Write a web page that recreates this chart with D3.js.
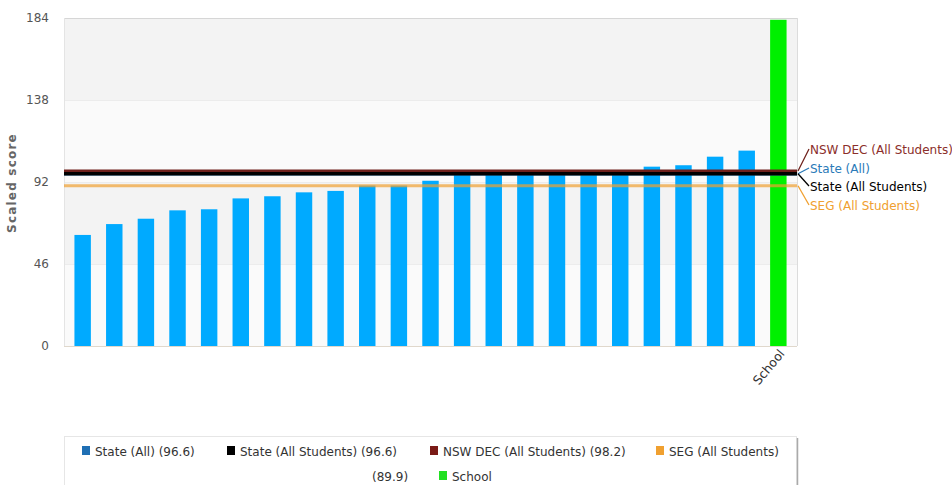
<!DOCTYPE html>
<html><head><meta charset="utf-8">
<script src="https://cdn.jsdelivr.net/npm/d3@7/dist/d3.min.js"></script>
<style>body{margin:0;background:#fff}svg{display:block}text{font-family:"DejaVu Sans",Verdana,sans-serif}</style>
</head><body><svg id="c" width="952" height="485"></svg>
<script>
const categories = ["c1","c2","c3","c4","c5","c6","c7","c8","c9","c10","c11","c12","c13","c14","c15","c16","c17","c18","c19","c20","c21","c22","School"];
const xLabels = ["","","","","","","","","","","","","","","","","","","","","","","School"];
const barValues = [62.3,68.4,71.4,76.1,76.7,82.8,84.0,86.2,87.0,90.0,90.0,92.7,96.0,96.3,96.5,96.5,96.8,97.5,100.6,101.4,106.2,109.6,183];
const yTicks = [0,46,92,138,184];
const refNames = ["NSW DEC (All Students)","State (All)","State (All Students)","SEG (All Students)"];
const refValues = [98.2,96.6,96.6,89.9];
const refColors = ["#6e1f1a","#2a7ab8","#000000","#f0a030"];
const legendLabels = ["State (All) (96.6)","State (All Students) (96.6)","NSW DEC (All Students) (98.2)","SEG (All Students)","(89.9)","School"];
const legendColors = ["#1f6fb4","#000000","#7a1a16","#f0a030",null,"#22e022"];

const svg = d3.select("#c");
const L=64,R=797,T=18,B=346;
const x = d3.scaleBand().domain(categories).range([L,R]).paddingInner(0.48).paddingOuter(0.33);
const y = d3.scaleLinear().domain([0,184]).range([B,T]);

// bands
for(let i=0;i<yTicks.length-1;i++){
  svg.append("rect").attr("x",L).attr("width",R-L)
    .attr("y",y(yTicks[i+1])).attr("height",y(yTicks[i])-y(yTicks[i+1]))
    .attr("fill", i%2===0 ? "#fafafa" : "#f3f3f3");
}
svg.selectAll(".g").data(yTicks.slice(1,-1)).enter().append("line")
  .attr("x1",L).attr("x2",R).attr("y1",d=>y(d)+0.5).attr("y2",d=>y(d)+0.5)
  .attr("stroke","#ececec");
svg.append("line").attr("x1",L).attr("x2",R).attr("y1",T+0.5).attr("y2",T+0.5).attr("stroke","#d6d6d6");
svg.append("line").attr("x1",R+0.5).attr("x2",R+0.5).attr("y1",T).attr("y2",B).attr("stroke","#dcdcdc");
svg.append("line").attr("x1",L+0.5).attr("x2",L+0.5).attr("y1",T).attr("y2",B).attr("stroke","#e4e4e4");
svg.append("line").attr("x1",L).attr("x2",R).attr("y1",B+0.5).attr("y2",B+0.5).attr("stroke","#e0d8cc");

// bars
svg.selectAll(".bar").data(barValues).enter().append("rect")
  .attr("x",(d,i)=>x(categories[i])).attr("width",x.bandwidth())
  .attr("y",d=>y(d)).attr("height",d=>B-y(d))
  .attr("fill",(d,i)=>categories[i]==="School" ? "#00f000" : "#00aaff");

// reference lines
const order=[3,1,0,2];
order.forEach(i=>{
  svg.append("line").attr("x1",L).attr("x2",R)
    .attr("y1",y(refValues[i])).attr("y2",y(refValues[i]))
    .attr("stroke",refColors[i])
    .attr("stroke-width", i===3 ? 3 : (i===0?3:3.5))
    .attr("stroke-opacity", i===3 ? 0.7 : 1);
});

// right labels with connectors
const labelY=[154,173,191,210];
refNames.forEach((n,i)=>{
  const y0=y(refValues[i]);
  svg.append("path").attr("d",`M${R+1},${y0} L${R+12},${labelY[i]-5}`)
    .attr("stroke",refColors[i]).attr("fill","none").attr("stroke-width",1.3);
  svg.append("text").attr("x",R+13).attr("y",labelY[i]).attr("font-size",12)
    .attr("fill", i===0?"#8b2e2a":refColors[i]).text(n);
});

// y axis labels
svg.selectAll(".yt").data(yTicks).enter().append("text")
  .attr("x",49).attr("y",d=>y(d)+4).attr("text-anchor","end")
  .attr("font-size",12).attr("fill","#555").text(d=>d);
svg.append("text").attr("transform",`translate(16,183) rotate(-90)`)
  .attr("text-anchor","middle").attr("font-size",12).attr("font-weight","bold")
  .attr("letter-spacing","1.2px")
  .attr("fill","#666").text("Scaled score");

// x labels
svg.selectAll(".xl").data(categories).enter().append("text")
  .attr("transform",(d,i)=>`translate(${x(d)+x.bandwidth()/2+7},${B+8}) rotate(-50)`)
  .attr("text-anchor","end").attr("font-size",12.5).attr("fill","#333")
  .text((d,i)=>xLabels[i]);

// legend box
svg.append("rect").attr("x",64.5).attr("y",436.5).attr("width",732).attr("height",60)
  .attr("fill","#fff").attr("stroke","#e6e6e6");
svg.append("line").attr("x1",797.5).attr("x2",797.5).attr("y1",438).attr("y2",485).attr("stroke","#aaa").attr("stroke-width",1.5);
const legPos=[[82,456],[227,456],[430,456],[656,456],[372,481],[439,481]];
legendLabels.forEach((t,i)=>{
  const [lx,ly]=legPos[i];
  let tx=lx;
  if(legendColors[i]){
    svg.append("rect").attr("x",lx).attr("y",ly-10).attr("width",8).attr("height",9).attr("fill",legendColors[i]);
    tx=lx+13;
  }
  svg.append("text").attr("x",tx).attr("y",ly).attr("font-size",12).attr("fill","#333").text(t);
});
</script></body></html>
